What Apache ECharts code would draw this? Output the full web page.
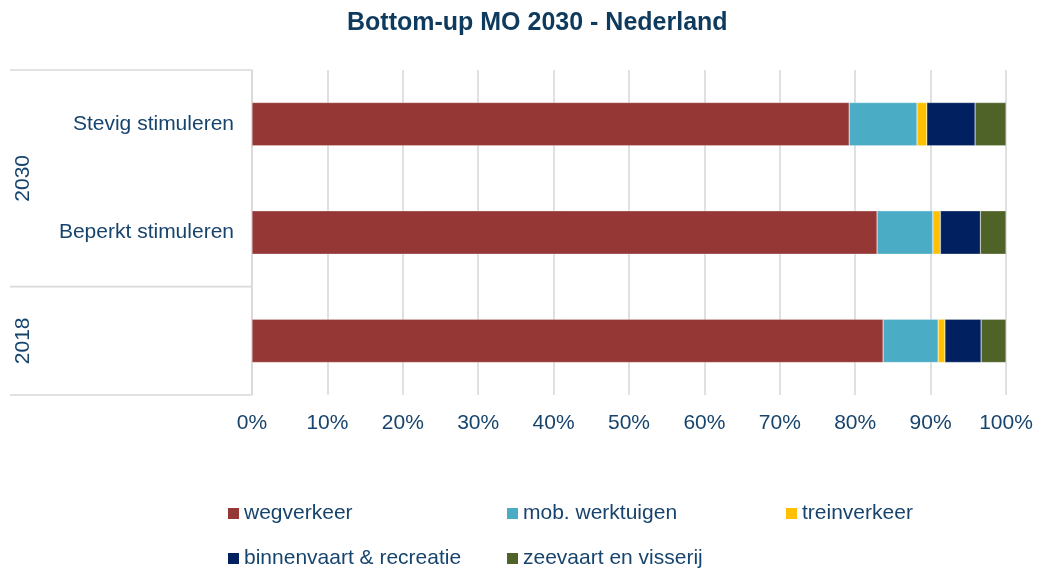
<!DOCTYPE html>
<html>
<head>
<meta charset="UTF-8">
<title>Bottom-up MO 2030 - Nederland</title>
<script type="text/javascript" src="https://cdn.jsdelivr.net/npm/echarts@6/dist/echarts.min.js"></script>
<style>
  html, body { margin: 0; padding: 0; background: #fff; }
</style>
</head>
<body>
<div id="main" style="width:1037px;height:570px"></div>
<script type="text/javascript">
// categorieen van onder naar boven (2018 heeft geen sublabel)
var categories = ['', 'Beperkt stimuleren', 'Stevig stimuleren'];
var groupLabels = ['2018', '2030'];
var groupSpans = [1, 2];

var seriesNames = ['wegverkeer', 'mob. werktuigen', 'treinverkeer', 'binnenvaart & recreatie', 'zeevaart en visserij'];
var seriesColors = ['#953735', '#4BACC6', '#FFC000', '#002060', '#4F6228'];

// aandeel in % per categorie
var wegverkeer = [83.7, 82.9, 79.2];
var mobWerktuigen = [7.3, 7.4, 9.0];
var treinverkeer = [0.9, 1.0, 1.3];
var binnenvaart = [4.8, 5.3, 6.4];
var zeevaart = [3.3, 3.4, 4.1];

var xTicks = [0, 10, 20, 30, 40, 50, 60, 70, 80, 90, 100];

var textColor = '#17446D';
var gridColor = '#D9D9D9';
var font = 'Liberation Sans, Arial, sans-serif';

var seriesData = [wegverkeer, mobWerktuigen, treinverkeer, binnenvaart, zeevaart];

// legenda: twee rijen, drie kolommen
var legendPos = [[228, 503], [507, 503], [786, 503], [228, 548], [507, 548]];

var myEcharts = echarts.init(document.getElementById('main'));

var option = {
    animation: false,
    backgroundColor: '#fff',
    title: {
        text: 'Bottom-up MO 2030 - Nederland',
        left: 347,
        top: 11,
        padding: 0,
        textStyle: { color: '#0E3A5E', fontSize: 25, fontWeight: 'bold', fontFamily: font }
    },
    legend: seriesNames.map(function(name, i) {
        return {
            data: [name],
            left: legendPos[i][0],
            top: legendPos[i][1],
            padding: 0,
            itemWidth: 11,
            itemHeight: 11,
            itemGap: 0,
            icon: 'rect',
            itemStyle: { borderWidth: 0 },
            selectedMode: false,
            textStyle: { color: textColor, fontSize: 21, fontFamily: font }
        };
    }),
    grid: {
        left: 252,
        right: 31,
        top: 70,
        bottom: 175
    },
    xAxis: {
        type: 'value',
        min: xTicks[0],
        max: xTicks[xTicks.length - 1],
        interval: 10,
        axisLine: { show: false },
        axisTick: { show: false },
        splitLine: { lineStyle: { color: gridColor, width: 1.6 } },
        axisLabel: {
            color: textColor,
            fontSize: 21,
            fontFamily: font,
            margin: 18,
            formatter: '{value}%'
        }
    },
    yAxis: {
        type: 'category',
        data: categories,
        axisLine: { show: true, lineStyle: { color: gridColor, width: 1.6 } },
        axisTick: { show: false },
        axisLabel: { color: textColor, fontSize: 21, fontFamily: font, margin: 18 }
    },
    series: seriesNames.map(function(name, i) {
        return {
            name: name,
            type: 'bar',
            stack: 'totaal',
            barWidth: '40%',
            itemStyle: { color: seriesColors[i], borderColor: 'rgba(255,255,255,0.5)', borderWidth: 0.5 },
            data: seriesData[i]
        };
    })
};

myEcharts.setOption(option);

// groepslabels (2018 / 2030) met kaderlijnen links van de as
var c0 = myEcharts.convertToPixel({ yAxisIndex: 0 }, 0);
var c1 = myEcharts.convertToPixel({ yAxisIndex: 0 }, 1);
var band = Math.abs(c0 - c1);
var axisX = myEcharts.convertToPixel({ xAxisIndex: 0 }, 0) - 1;
var graphics = [];
var start = 0;
var bottomEdge = c0 + band / 2;
graphics.push({ type: 'line', shape: { x1: 10, y1: bottomEdge, x2: axisX, y2: bottomEdge }, style: { stroke: gridColor, lineWidth: 1.6 }, silent: true });
groupLabels.forEach(function(lbl, g) {
    var lo = bottomEdge - start * band;
    var hi = lo - groupSpans[g] * band;
    graphics.push({ type: 'line', shape: { x1: 10, y1: hi, x2: axisX, y2: hi }, style: { stroke: gridColor, lineWidth: 1.6 }, silent: true });
    graphics.push({
        type: 'text',
        x: 23,
        y: (lo + hi) / 2,
        rotation: Math.PI / 2,
        style: { text: lbl, fill: textColor, font: '21px ' + font, align: 'center', verticalAlign: 'middle' },
        silent: true
    });
    start += groupSpans[g];
});
myEcharts.setOption({ graphic: graphics });
</script>
</body>
</html>
